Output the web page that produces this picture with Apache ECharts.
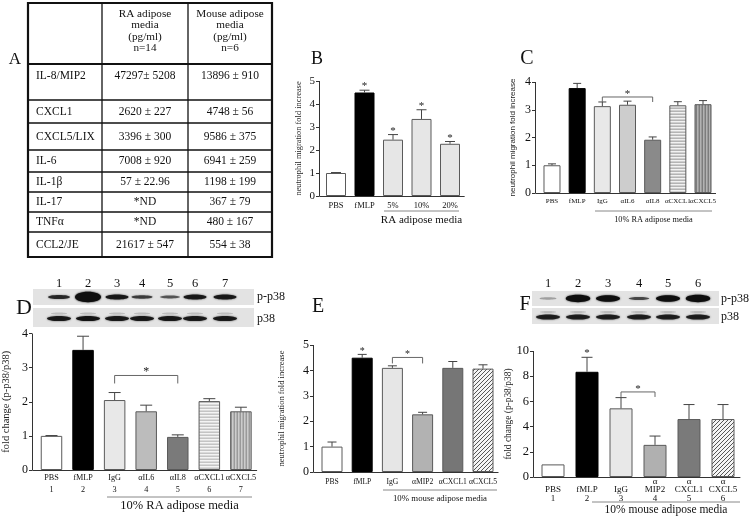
<!DOCTYPE html>
<html><head><meta charset="utf-8">
<script src="https://cdn.jsdelivr.net/npm/echarts@6/dist/echarts.min.js"></script>
<style>html,body{margin:0;padding:0;background:#fff}#c{width:750px;height:519px}</style>
</head><body><div id="c"></div><script>
// ---------------- DATA ----------------
const tableRows = ['IL-8/MIP2','CXCL1','CXCL5/LIX','IL-6','IL-1β','IL-17','TNFα','CCL2/JE'];
const tableRA = ['47297± 5208','2620 ± 227','3396 ± 300','7008 ± 920','57 ± 22.96','*ND','*ND','21617 ± 547'];
const tableMouse = ['13896 ± 910','4748 ± 56','9586 ± 375','6941 ± 259','1198 ± 199','367 ± 79','480 ± 167','554 ± 38'];
const tableHeadRA = ['RA adipose','media','(pg/ml)','n=14'];
const tableHeadMouse = ['Mouse adipose','media','(pg/ml)','n=6'];

const bCats = ['PBS','fMLP','5%','10%','20%'];
const bVals = [1.0, 4.5, 2.45, 3.35, 2.27];
const bErr  = [0.02, 0.1, 0.22, 0.4, 0.1];
const bStar = [0, 1, 1, 1, 1];
const bGroup = 'RA adipose media';

const cCats = ['PBS','fMLP','IgG','αIL6','αIL8','αCXCL1','αCXCL5'];
const cVals = [1.0, 3.78, 3.13, 3.18, 1.92, 3.16, 3.2];
const cErr  = [0.05, 0.17, 0.15, 0.13, 0.1, 0.13, 0.13];
const cStar = [0,0,0,0,0,0,0];
const cBracket = [2, 4, 3.46];
const cGroup = '10% RA adipose media';

const dCats = ['PBS','fMLP','IgG','αIL6','αIL8','αCXCL1','αCXCL5'];
const dLanes = ['1','2','3','4','5','6','7'];
const dVals = [1.0, 3.52, 2.05, 1.72, 0.97, 2.02, 1.72];
const dErr  = [0.01, 0.4, 0.22, 0.18, 0.06, 0.07, 0.12];
const dStar = [0,0,0,0,0,0,0];
const dBracket = [2, 4, 2.77];
const dGroup = '10% RA adipose media';
const dBlotPhos  = [0.6, 1.0, 0.7, 0.5, 0.4, 0.7, 0.7];
const dBlotTotal = [0.9, 0.95, 0.9, 0.9, 0.9, 0.9, 0.9];

const eCats = ['PBS','fMLP','IgG','αMIP2','αCXCL1','αCXCL5'];
const eVals = [1.0, 4.5, 4.1, 2.27, 4.1, 4.07];
const eErr  = [0.18, 0.13, 0.08, 0.08, 0.25, 0.15];
const eStar = [0, 1, 0, 0, 0, 0];
const eBracket = [2, 3, 4.51];
const eGroup = '10% mouse adipose media';

const fCats = ['PBS','fMLP','IgG','α\nMIP2','α\nCXCL1','α\nCXCL5'];
const fLanes = ['1','2','3','4','5','6'];
const fVals = [1.0, 8.35, 5.45, 2.55, 4.6, 4.6];
const fErr  = [0, 1.15, 0.85, 0.7, 1.15, 1.15];
const fStar = [0, 1, 0, 0, 0, 0];
const fBracket = [2, 3, 6.75];
const fGroup = '10% mouse adipose media';
const fBlotPhos  = [0.1, 0.85, 0.8, 0.45, 0.8, 0.85];
const fBlotTotal = [0.85, 0.85, 0.85, 0.85, 0.85, 0.85];

// ---------------- STYLE / LAYOUT ----------------
const SERIF = '"Liberation Serif","Times New Roman",serif';
const SANS = '"Liberation Sans",Arial,sans-serif';
const AX = '#333';

function pattern(kind, cols) {
  const cv = document.createElement('canvas');
  const n = cols.length;
  if (kind === 'd') {
    cv.width = 4; cv.height = 4;
    const ctx = cv.getContext('2d');
    ctx.fillStyle = cols[1]; ctx.fillRect(0,0,4,4);
    ctx.fillStyle = cols[0];
    for (let x = 0; x < 4; x++) ctx.fillRect(x, 3 - x, 1, 1);
  } else {
    cv.width = kind === 'v' ? n : 1; cv.height = kind === 'h' ? n : 1;
    const ctx = cv.getContext('2d');
    cols.forEach((c, i) => {
      ctx.fillStyle = c;
      if (kind === 'h') ctx.fillRect(0, i, 1, 1); else ctx.fillRect(i, 0, 1, 1);
    });
  }
  return { image: cv, repeat: 'repeat' };
}

const panels = [
  { cats: bCats, vals: bVals, err: bErr, star: bStar, bracket: null,
    colors: ['#ffffff','#000000','#e6e6e6','#e6e6e6','#e6e6e6'],
    grid: {left: 321.75, top: 81, width: 142.5, height: 115}, yOff: 2.75, max: 5, interval: 1,
    barW: 20, capW: 10, labSize: 8.5, labMargin: 4.5, labLH: 10, tickSize: 11,
    yName: 'neutrophil migration fold increase', yNameSize: 8.4, yNameFont: SERIF, yNameGap: 16, starSize: 11 },
  { cats: cCats, vals: cVals, err: cErr, star: cStar, bracket: cBracket,
    colors: ['#ffffff','#000000','#e8e8e8','#cdcdcd','#8a8a8a',
      pattern('h', ['#b4b4b4','#f2f2f2','#cfcfcf']), pattern('v', ['#7c7c7c','#b2b2b2','#999999'])],
    grid: {left: 539.4, top: 82, width: 176.2, height: 111}, yOff: 4.4, max: 4, interval: 1,
    barW: 17, capW: 8, labSize: 7, labMargin: 4, labLH: 9, tickSize: 12,
    yName: 'neutrophil migration fold increase', yNameSize: 8, yNameFont: SANS, yNameGap: 18, starSize: 11, leg: 5 },
  { cats: dCats.map((c, i) => c + '\n' + dLanes[i]), vals: dVals, err: dErr, star: dStar, bracket: dBracket,
    colors: ['#ffffff','#000000','#e8e8e8','#bcbcbc','#7a7a7a',
      pattern('h', ['#c4c4c4','#f4f4f4','#dadada']), pattern('v', ['#9a9a9a','#cccccc','#b4b4b4'])],
    grid: {left: 35.7, top: 333.5, width: 221, height: 136.5}, yOff: 3.7, max: 4, interval: 1,
    barW: 21.5, capW: 12, labSize: 8.2, labMargin: 2, labLH: 12, tickSize: 12,
    yName: 'fold change (p-p38/p38)', yNameSize: 10.5, yNameFont: SERIF, yNameGap: 20, starSize: 12, leg: 8 },
  { cats: eCats, vals: eVals, err: eErr, star: eStar, bracket: eBracket,
    colors: ['#ffffff','#000000','#e6e6e6','#b2b2b2','#767676', pattern('d', ['#555555','#f4f4f4'])],
    grid: {left: 316.9, top: 345, width: 181.2, height: 127}, yOff: 3.9, max: 5, interval: 1,
    barW: 21, capW: 9, labSize: 7.6, labMargin: 5, labLH: 9, tickSize: 12,
    yName: 'neutrophil migration fold increase', yNameSize: 8.5, yNameFont: SERIF, yNameGap: 27, starSize: 10, leg: 6 },
  { cats: fCats.map((c, i) => (c.indexOf('\n') < 0 ? '\n' + c : c) + '\n' + fLanes[i]), vals: fVals, err: fErr, star: fStar, bracket: fBracket,
    colors: ['#ffffff','#000000','#e8e8e8','#b0b0b0','#7a7a7a', pattern('d', ['#555555','#f4f4f4'])],
    grid: {left: 536, top: 351, width: 204, height: 126}, yOff: 3, max: 10, interval: 2,
    barW: 23, capW: 11, labSize: 9, labMargin: 0, labLH: 8.5, tickSize: 12.5,
    yName: 'fold change (p-p38/p38)', yNameSize: 9.4, yNameFont: SERIF, yNameGap: 20, starSize: 11, leg: 5 }
];

const G = [];
function txt(t, x, y, size, opts) {
  G.push({type: 'text', x: x, y: y, z: 10, style: Object.assign({text: t, fontFamily: SERIF, fontSize: size, fill: '#111',
    align: 'center', verticalAlign: 'middle'}, opts || {})});
}
function ln(x1, y1, x2, y2, w, c) {
  G.push({type: 'line', shape: {x1, y1, x2, y2}, style: {stroke: c || '#111', lineWidth: w || 1}});
}

const grids = [], xAxes = [], yAxes = [], series = [];
panels.forEach((p, gi) => {
  grids.push(Object.assign({containLabel: false}, p.grid));
  xAxes.push({ type: 'category', gridIndex: gi, data: p.cats,
    axisLine: {show: true, lineStyle: {color: AX, width: 1}}, axisTick: {show: false},
    axisLabel: {interval: 0, color: '#111', fontFamily: SERIF, fontSize: p.labSize, margin: p.labMargin, lineHeight: p.labLH, align: 'center'} });
  yAxes.push({ type: 'value', gridIndex: gi, min: 0, max: p.max, interval: p.interval, offset: p.yOff, position: 'left',
    axisLine: {show: false},
    axisTick: {show: true, length: 3, lineStyle: {color: AX}}, splitLine: {show: false},
    axisLabel: {color: '#111', fontFamily: SERIF, fontSize: p.tickSize, margin: 4},
    name: p.yName, nameLocation: 'middle', nameRotate: 90, nameGap: p.yNameGap,
    nameTextStyle: {fontFamily: p.yNameFont, fontSize: p.yNameSize, color: '#222'} });
  // y-axis line (ECharts' own thin line is dropped when offset from the grid), drawn along the grid edge
  const ax = Math.round(p.grid.left - p.yOff) + 0.5, bottom = p.grid.top + p.grid.height;
  ln(ax, p.grid.top, ax, bottom + 0.5, 1, AX);
  ln(ax, Math.round(bottom) + 0.5, p.grid.left + 1, Math.round(bottom) + 0.5, 1, AX);
  series.push({ type: 'bar', xAxisIndex: gi, yAxisIndex: gi, barWidth: p.barW, silent: true,
    data: p.vals.map((v, i) => ({value: v, itemStyle: {color: p.colors[i], borderColor: i === 1 ? '#000' : '#5a5a5a', borderWidth: 1}})) });
  series.push({ type: 'custom', xAxisIndex: gi, yAxisIndex: gi, z: 5, silent: true,
    data: p.vals.map((v, i) => [i, v, p.err[i], p.star[i]]), encode: {x: 0, y: 1},
    renderItem: (params, api) => {
      const i = api.value(0), v = api.value(1), e = api.value(2), s = api.value(3);
      const a = api.coord([i, v]), b = api.coord([i, v + e]);
      const ch = [];
      if (e > 0) {
        ch.push({type: 'line', shape: {x1: a[0], y1: a[1], x2: b[0], y2: b[1]}, style: {stroke: '#444', lineWidth: 1}});
        ch.push({type: 'line', shape: {x1: b[0] - p.capW / 2, y1: b[1], x2: b[0] + p.capW / 2, y2: b[1]}, style: {stroke: '#444', lineWidth: 1}});
      }
      if (s) ch.push({type: 'text', style: {text: '*', x: b[0], y: b[1] + p.starSize * 0.15, align: 'center', verticalAlign: 'bottom',
        fontSize: p.starSize, fontFamily: SERIF, fill: '#222'}});
      return {type: 'group', children: ch};
    } });
  if (p.bracket) {
    series.push({ type: 'custom', xAxisIndex: gi, yAxisIndex: gi, z: 5, silent: true,
      data: [p.bracket], encode: {x: [0, 1], y: 2},
      renderItem: (params, api) => {
        const a = api.coord([api.value(0), api.value(2)]), b = api.coord([api.value(1), api.value(2)]);
        return {type: 'group', children: [
          {type: 'polyline', shape: {points: [[a[0], a[1] + p.leg], [a[0], a[1]], [b[0], b[1]], [b[0], b[1] + p.leg]]},
            style: {stroke: '#666', fill: null, lineWidth: 1}},
          {type: 'text', style: {text: '*', x: (a[0] + b[0]) / 2, y: a[1] + p.starSize * 0.2, align: 'center', verticalAlign: 'bottom',
            fontSize: p.starSize, fontFamily: SERIF, fill: '#222'}}
        ]};
      } });
  }
});

// ---------------- DECORATION (table, blots, group labels) ----------------
const tColX = [28, 102, 188, 272];
const tRowY = [3, 64, 100, 123, 150, 172, 192, 212, 232, 257];
G.push({type: 'rect', shape: {x: tColX[0], y: tRowY[0], width: tColX[3] - tColX[0], height: tRowY[9] - tRowY[0]},
  style: {fill: '#fff', stroke: '#111', lineWidth: 2.2}});
ln(tColX[1], tRowY[0], tColX[1], tRowY[9], 1.3); ln(tColX[2], tRowY[0], tColX[2], tRowY[9], 1.3);
for (let r = 1; r < 9; r++) ln(tColX[0], tRowY[r], tColX[3], tRowY[r], r === 1 ? 1.8 : 1.3);
const hdrY = [14, 25.5, 37, 48.5];
tableHeadRA.forEach((t, i) => txt(t, (tColX[1] + tColX[2]) / 2, hdrY[i], 11.2));
tableHeadMouse.forEach((t, i) => txt(t, (tColX[2] + tColX[3]) / 2, hdrY[i], 11.2));
tableRows.forEach((t, r) => {
  const y = r === 0 ? tRowY[1] + 12 : (tRowY[r + 1] + tRowY[r + 2]) / 2;
  txt(t, 36, y, 11.5, {align: 'left'});
  txt(tableRA[r], (tColX[1] + tColX[2]) / 2, y, 11.5);
  txt(tableMouse[r], (tColX[2] + tColX[3]) / 2, y, 11.5);
});
txt('A', 15, 60, 17); txt('B', 317, 59, 18); txt('C', 527, 59, 20);
txt('D', 24, 308, 22); txt('E', 318, 307, 20); txt('F', 525, 305, 20);

const groups = [
  {t: bGroup, x1: 384, x2: 459, y: 211, ty: 220, s: 11},
  {t: cGroup, x1: 595, x2: 712, y: 211, ty: 220, s: 8.3},
  {t: dGroup, x1: 107, x2: 252, y: 497, ty: 506, s: 12.5},
  {t: eGroup, x1: 383, x2: 497, y: 490, ty: 499, s: 8.8},
  {t: fGroup, x1: 592, x2: 740, y: 502, ty: 510, s: 11.5}
];
groups.forEach(g => { ln(g.x1, g.y, g.x2, g.y, 1, '#888'); txt(g.t, (g.x1 + g.x2) / 2, g.ty, g.s); });

function blot(x0, x1, y1a, y1b, y2a, y2b, laneX, laneY, phos, total, labX) {
  G.push({type: 'rect', shape: {x: x0, y: y1a, width: x1 - x0, height: y1b - y1a}, style: {fill: '#e3e3e3'}});
  G.push({type: 'rect', shape: {x: x0, y: y2a, width: x1 - x0, height: y2b - y2a}, style: {fill: '#e3e3e3'}});
  laneX.forEach((x, i) => {
    txt(String(i + 1), x, laneY, 12.5);
    const a = phos[i], cy1 = (y1a + y1b) / 2, cy2 = (y2a + y2b) / 2;
    G.push({type: 'ellipse', shape: {cx: x, cy: cy1, rx: 8 + 5 * a, ry: 1.2 + 4 * Math.pow(a, 3)},
      style: {fill: 'rgba(15,15,15,' + Math.min(1, a + 0.2) + ')', shadowBlur: 2, shadowColor: 'rgba(0,0,0,' + a + ')'}});
    const t = total[i];
    G.push({type: 'ellipse', shape: {cx: x, cy: cy2 + 1, rx: 12, ry: 2.6}, style: {fill: 'rgba(15,15,15,' + t + ')', shadowBlur: 2, shadowColor: 'rgba(0,0,0,0.7)'}});
    G.push({type: 'ellipse', shape: {cx: x, cy: cy2 - 4, rx: 8, ry: 1}, style: {fill: 'rgba(120,120,120,0.35)'}});
  });
  txt('p-p38', labX, (y1a + y1b) / 2, 12, {align: 'left'});
  txt('p38', labX, (y2a + y2b) / 2 + 1, 12, {align: 'left'});
}
blot(33, 254, 289, 305, 308, 327, [59, 88, 117, 142, 170, 195, 225], 284, dBlotPhos, dBlotTotal, 257);
blot(532, 719, 291, 306, 308, 324, [548, 578, 608, 639, 668, 698], 284, fBlotPhos, fBlotTotal, 721);

const chart = echarts.init(document.getElementById('c'), null, {renderer: 'canvas'});
chart.setOption({
  backgroundColor: '#fff', animation: false,
  grid: grids, xAxis: xAxes, yAxis: yAxes, series: series,
  graphic: G
});
</script></body></html>
